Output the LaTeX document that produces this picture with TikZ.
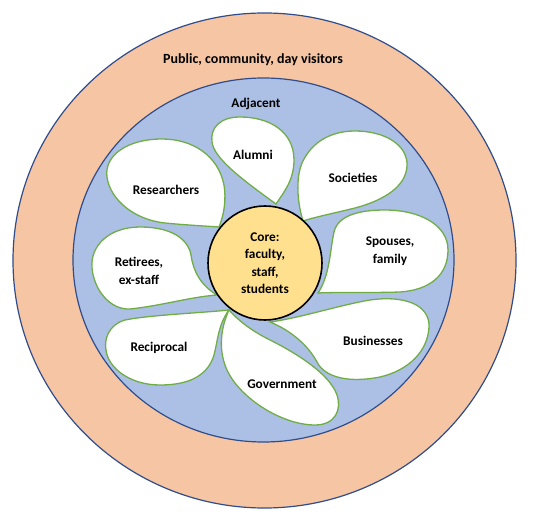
\documentclass[tikz,border=0pt]{standalone}
\usepackage{fontspec}
\setmainfont{Carlito}

\definecolor{ringorange}{HTML}{F6C5A3}
\definecolor{ringblue}{HTML}{ABC0E4}
\definecolor{edgeblue}{HTML}{2F4D8C}
\definecolor{petalgreen}{HTML}{70AD47}
\definecolor{coreyellow}{HTML}{FFE08F}

\tikzset{
  ring/.style={draw=edgeblue, line width=1.2pt},
  petal/.style={fill=white, draw=petalgreen, line width=1.3pt},
  lbl/.style={font=\bfseries\fontsize{13.3}{17.5}\selectfont, align=center},
}

\begin{document}
\begin{tikzpicture}[x=1pt, y=-1pt]
\useasboundingbox (0,0) rectangle (535,526);

% rings
\draw[ring, fill=ringorange] (264.5,260.5) ellipse [x radius=251.5, y radius=247.5];
\draw[ring, fill=ringblue] (263.5,260) ellipse [x radius=190.5, y radius=182];

\node[lbl, font=\bfseries\fontsize{14}{17}\selectfont] (public) at (253,60) {Public, community, day visitors};
\node[lbl] (adjacent) at (256,104) {Adjacent};

% petals
\draw[petal] (219,227) .. controls (225,212) and (226,198) .. (224,185)
  .. controls (218,155) and (192,139) .. (162,139)
  .. controls (128,139) and (104,155) .. (107,177)
  .. controls (110,200) and (135,220) .. (165,223)
  .. controls (185,225) and (205,226) .. cycle;
\draw[petal] (276,204) .. controls (284,192) and (294,180) .. (294,160)
  .. controls (294,132) and (270,117) .. (240,117)
  .. controls (220,117) and (210,128) .. (212,142)
  .. controls (214,158) and (240,178) .. cycle;
\draw[petal] (303,221) .. controls (298,205) and (295,180) .. (302,163)
  .. controls (312,141) and (332,131) .. (355,131)
  .. controls (385,131) and (408,145) .. (407,166)
  .. controls (406,186) and (385,200) .. (355,208)
  .. controls (335,213) and (315,217) .. cycle;
\draw[petal] (318,293) .. controls (330,275) and (330,250) .. (334,232)
  .. controls (338,215) and (360,210) .. (385,210)
  .. controls (420,210) and (448,225) .. (448,250)
  .. controls (448,275) and (430,290) .. (400,292)
  .. controls (370,293) and (340,292) .. cycle;
\draw[petal] (217,295) .. controls (200,285) and (193,270) .. (191,255)
  .. controls (188,238) and (170,227) .. (140,227)
  .. controls (110,227) and (90,245) .. (92,268)
  .. controls (94,290) and (110,310) .. (130,309)
  .. controls (160,306) and (190,297) .. cycle;
\draw[petal] (229,310) .. controls (200,313) and (150,315) .. (125,320)
  .. controls (108,325) and (104,340) .. (106,350)
  .. controls (108,368) and (130,385) .. (160,385)
  .. controls (190,385) and (208,375) .. (214,355)
  .. controls (218,340) and (218,325) .. cycle;
\draw[petal] (229,310) .. controls (222,325) and (218,345) .. (225,365)
  .. controls (235,395) and (280,425) .. (315,425)
  .. controls (335,425) and (342,410) .. (337,395)
  .. controls (330,375) and (300,355) .. (270,340)
  .. controls (250,330) and (238,320) .. cycle;
\draw[petal] (270,322) .. controls (300,318) and (340,305) .. (370,300)
  .. controls (405,295) and (430,305) .. (429,327)
  .. controls (428,350) and (410,370) .. (380,377)
  .. controls (350,383) and (325,378) .. (317,362)
  .. controls (308,345) and (290,330) .. cycle;

% petal labels
\node[lbl] (alumni) at (253,155) {Alumni};
\node[lbl] (researchers) at (166,190) {Researchers};
\node[lbl] (societies) at (353,178) {Societies};
\node[lbl] (spouses) at (390,251) {Spouses,\\family};
\node[lbl] (retirees) at (139,271) {Retirees,\\ex-staff};
\node[lbl] (reciprocal) at (159,348) {Reciprocal};
\node[lbl] (businesses) at (373,341) {Businesses};
\node[lbl] (government) at (282,384) {Government};

% core
\node[lbl, circle, fill=coreyellow, draw=black, line width=1.6pt, minimum size=114pt, inner sep=0pt] (core) at (265,263) {Core:\\faculty,\\staff,\\students};

\end{tikzpicture}
\end{document}
